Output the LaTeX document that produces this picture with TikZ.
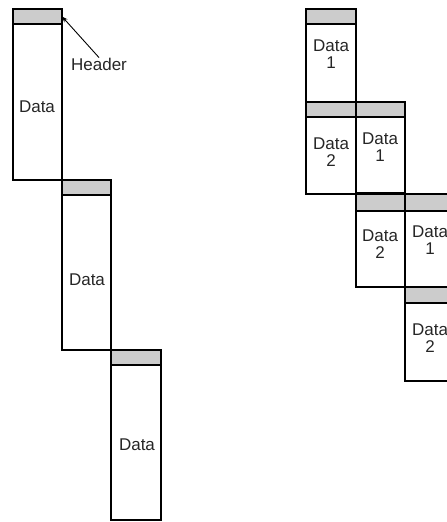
\documentclass[tikz,border=0pt]{standalone}
\usepackage{fontspec}
\setmainfont{Liberation Sans}
\usetikzlibrary{arrows.meta}
\begin{document}
\begin{tikzpicture}[x=1pt,y=-1pt]
	\tikzset{hdr/.style = {draw, line width=1.7pt, fill=black!20, anchor=north west, minimum width=49pt, minimum height=15pt, inner sep=0pt, outer sep=0pt},
		body/.style = {draw, line width=1.7pt, anchor=north west, minimum width=49pt, inner sep=0pt, outer sep=0pt},
		txt/.style = {font=\fontsize{17}{17}\selectfont, align=center, inner sep=0pt, text=black!85}}
	\useasboundingbox (0,0) rectangle (447,522);
	% Unfragmented packets
	\node[body, minimum height=156pt] (bA) at (13,24) {};
	\node[hdr] (hA) at (13,9) {};
	\node[body, minimum height=155pt] (bB) at (62,195) {};
	\node[hdr] (hB) at (62,180) {};
	\node[body, minimum height=155pt, minimum width=50pt] (bC) at (111,365) {};
	\node[hdr, minimum width=50pt] (hC) at (111,350) {};
	\node[txt] (tA) at (37,107) {Data};
	\node[txt] (tB) at (87,280) {Data};
	\node[txt] (tC) at (137,445) {Data};
	\node[txt] (hlbl) at (99,64) {Header};
	\draw[-{Stealth[length=6pt,width=4.5pt]}, line width=0.9pt] (hlbl.north) -- (hA.east);
	% Fragmented packets
	\node[body, minimum height=78pt, minimum width=50pt] (b11) at (306,24) {};
	\node[hdr, minimum width=50pt] (h11) at (306,9) {};
	\node[body, minimum height=77pt, minimum width=50pt] (b21) at (306,117) {};
	\node[hdr, minimum width=50pt] (h21) at (306,102) {};
	\node[body, minimum height=76pt] (b22) at (356,117) {};
	\node[hdr] (h22) at (356,102) {};
	\node[body, minimum height=76pt] (b32) at (356,211) {};
	\node[hdr, minimum height=17pt] (h32) at (356,194) {};
	\node[body, minimum height=76pt, minimum width=50pt] (b33) at (405,211) {};
	\node[hdr, minimum height=17pt, minimum width=50pt] (h33) at (405,194) {};
	\node[body, minimum height=78pt, minimum width=50pt] (b43) at (405,303) {};
	\node[hdr, minimum height=16pt, minimum width=50pt] (h43) at (405,287) {};
	\node[txt] (t11) at (331,54) {Data\\1};
	\node[txt] (t21) at (331,152) {Data\\2};
	\node[txt] (t22) at (380,147) {Data\\1};
	\node[txt] (t32) at (380,244) {Data\\2};
	\node[txt] (t33) at (430,240) {Data\\1};
	\node[txt] (t43) at (430,338) {Data\\2};
\end{tikzpicture}
\end{document}
